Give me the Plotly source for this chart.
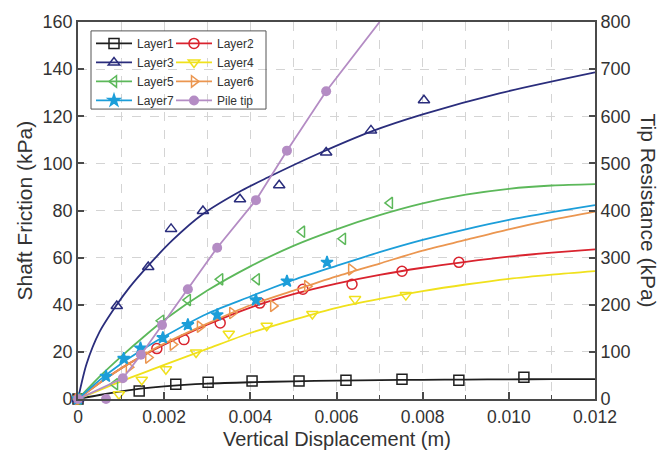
import plotly.graph_objects as go

# ---------------- data ----------------
# measured points: x = vertical displacement (m), y = shaft friction (kPa)
l1_x = [0, 0.00142, 0.00227, 0.00302, 0.00404, 0.00513, 0.00622, 0.00752, 0.00884, 0.01035]
l1_y = [0, 3.4, 6.3, 7.1, 7.6, 7.6, 8.0, 8.4, 8.0, 9.2]

l2_x = [0, 0.00183, 0.00246, 0.0033, 0.00422, 0.00522, 0.00636, 0.00752, 0.00884]
l2_y = [0, 21.4, 25.2, 32.3, 40.7, 46.6, 48.7, 54.2, 58.0]

l3_x = [0, 0.0009, 0.00163, 0.00216, 0.0029, 0.00376, 0.00467, 0.00576, 0.0068, 0.00803]
l3_y = [0, 39.5, 56, 72.2, 79.8, 84.8, 90.7, 104.6, 114, 126.8]

l4_x = [0, 0.00095, 0.00148, 0.00204, 0.00274, 0.0035, 0.00438, 0.00544, 0.00643, 0.00761]
l4_y = [0, 2.0, 8.2, 12.6, 19.7, 27.7, 31.1, 36.1, 42.4, 44.1]

l5_x = [0, 0.00086, 0.00193, 0.00255, 0.0033, 0.00415, 0.0052, 0.00615, 0.00724]
l5_y = [0, 6.3, 33.2, 42, 50.8, 50.8, 71, 68, 83.2]

l6_x = [0, 0.00118, 0.00163, 0.0022, 0.00283, 0.00358, 0.00453, 0.00532, 0.00634]
l6_y = [0, 13.5, 17.6, 23.1, 30.7, 36.5, 39.5, 47.9, 55]

l7_x = [0, 0.00065, 0.00106, 0.00145, 0.00197, 0.00255, 0.00323, 0.00413, 0.00485, 0.00578]
l7_y = [0, 9.6, 17.2, 21.6, 26, 31.5, 35.7, 42, 50, 58]

# pile tip resistance (kPa, right axis)
tip_x = [0, 0.00065, 0.00104, 0.00146, 0.00195, 0.00255, 0.00323, 0.00413, 0.00485, 0.00576]
tip_y = [0, 0, 44, 94, 157, 233, 321, 422, 527, 653]
tip_line_x = [0, 0.00104, 0.00146, 0.00195, 0.00255, 0.00323, 0.00413, 0.00485, 0.00576, 0.0070]
tip_line_y = [0, 44, 94, 157, 233, 321, 422, 527, 653, 800]

# fitted curves
fit_x = [0, 0.0005, 0.001, 0.0015, 0.002, 0.003, 0.004, 0.005, 0.006, 0.007, 0.008, 0.009, 0.010, 0.011, 0.012]
fit1_y = [0, 1.7, 3.2, 4.5, 5.4, 6.5, 7.1, 7.5, 7.8, 8.0, 8.15, 8.25, 8.35, 8.4, 8.45]
fit2_y = [0, 6.8, 13, 18.3, 23, 31.5, 38.8, 44.5, 49, 52.7, 55.7, 58.2, 60.4, 62.1, 63.5]
fit4_y = [0, 3.8, 7.5, 11, 14.5, 21.3, 28, 33.6, 38.7, 42.5, 45.8, 48.6, 51, 52.8, 54.3]
fit5_y = [0, 9.5, 18, 26, 33.5, 46, 56.3, 65, 72, 78, 83, 86.7, 89.2, 90.6, 91.2]
fit6_y = [0, 6.8, 13, 18.5, 23.5, 32, 39.8, 46, 52, 57.5, 63, 67.5, 72, 76, 79.5]
fit7_y = [0, 8, 15, 21, 26.5, 36.2, 43.5, 50.5, 56.5, 62.3, 67.5, 72, 76, 79.3, 82.3]
fit3_x = [0, 0.0002, 0.0005, 0.0009, 0.0012, 0.0016, 0.0022, 0.0029, 0.0038, 0.0044, 0.0056, 0.0068, 0.008, 0.0098, 0.012]
fit3_y = [0, 15, 28.5, 40, 47.5, 56, 67.5, 78.5, 88.5, 94, 104.3, 113.5, 120.8, 129.8, 138.6]

x_tickvals = [0, 0.002, 0.004, 0.006, 0.008, 0.010, 0.012]
x_ticktext = ["0", "0.002", "0.004", "0.006", "0.008", "0.010", "0.012"]
y_tickvals = [0, 20, 40, 60, 80, 100, 120, 140, 160]
y2_tickvals = [0, 100, 200, 300, 400, 500, 600, 700, 800]

# ---------------- styling ----------------
FONT = "Liberation Sans, Arial, sans-serif"
TXT = "#333333"
AX = "#4a4a4a"
GRID = "#d4d4d4"

series = [
    ("Layer1", l1_x, l1_y, fit_x, fit1_y, "#1f1f1f", "square-open", "legend"),
    ("Layer2", l2_x, l2_y, fit_x, fit2_y, "#d9232e", "circle-open", "legend2"),
    ("Layer3", l3_x, l3_y, fit3_x, fit3_y, "#2a2d7c", "triangle-up-open", "legend"),
    ("Layer4", l4_x, l4_y, fit_x, fit4_y, "#f0e11c", "triangle-down-open", "legend2"),
    ("Layer5", l5_x, l5_y, fit_x, fit5_y, "#5cb85a", "triangle-left-open", "legend"),
    ("Layer6", l6_x, l6_y, fit_x, fit6_y, "#eb9650", "triangle-right-open", "legend2"),
    ("Layer7", l7_x, l7_y, fit_x, fit7_y, "#1c9ed9", "star", "legend"),
]
TIP_COLOR = "#b48cc4"

fig = go.Figure()

for name, px, py, fx, fy, col, sym, leg in series:
    fig.add_trace(go.Scatter(x=fx, y=fy, mode="lines", line=dict(color=col, width=1.8, shape="spline", smoothing=0.8),
                             showlegend=False, hoverinfo="skip"))
    fig.add_trace(go.Scatter(x=px, y=py, mode="markers",
                             marker=dict(symbol=sym, size=10 if sym != "star" else 9, color=col,
                                         line=dict(color=col, width=1.5)),
                             showlegend=False, name=name, cliponaxis=False))

# pile tip on right axis
fig.add_trace(go.Scatter(x=tip_line_x, y=tip_line_y, mode="lines", yaxis="y2",
                         line=dict(color=TIP_COLOR, width=1.8), showlegend=False, hoverinfo="skip"))
fig.add_trace(go.Scatter(x=tip_x, y=tip_y, mode="markers", yaxis="y2",
                         marker=dict(symbol="circle", size=10, color=TIP_COLOR),
                         showlegend=False, name="Pile tip", cliponaxis=False))

# legend-only entries (line + marker)
for name, px, py, fx, fy, col, sym, leg in series:
    fig.add_trace(go.Scatter(x=[None], y=[None], mode="lines+markers", name=name, legend=leg,
                             line=dict(color=col, width=1.8),
                             marker=dict(symbol=sym, size=10 if sym != "star" else 9, color=col,
                                         line=dict(color=col, width=1.5))))
fig.add_trace(go.Scatter(x=[None], y=[None], mode="lines+markers", name="Pile tip", legend="legend2",
                         line=dict(color=TIP_COLOR, width=1.8),
                         marker=dict(symbol="circle", size=10, color=TIP_COLOR)))

# plot area: left 78px, right 595px, top 18px, bottom 399px
W, H = 660, 451
L, R, T, B = 78, 65, 18, 52
pw, ph = W - L - R, H - T - B

def px2x(p):
    return (p - L) / pw

def px2y(p):
    return (H - B - p) / ph

legend_common = dict(font=dict(family=FONT, size=12, color=TXT), bgcolor="rgba(0,0,0,0)",
                     borderwidth=0, xanchor="left", yanchor="top", tracegroupgap=0,
                     itemwidth=36, orientation="v")

fig.update_layout(
    width=W, height=H,
    margin=dict(l=L, r=R, t=T, b=B),
    paper_bgcolor="white", plot_bgcolor="white",
    font=dict(family=FONT, color=TXT, size=18),
    legend=dict(x=px2x(91), y=px2y(25), **legend_common),
    legend2=dict(x=px2x(171), y=px2y(25), **legend_common),
    xaxis=dict(range=[0, 0.012], tickvals=x_tickvals, ticktext=x_ticktext,
               ticks="inside", ticklen=7, tickwidth=1.5, tickcolor=AX, ticklabelstandoff=1,
               showline=True, linecolor=AX, linewidth=1.6, mirror=True,
               showgrid=True, gridcolor=GRID, griddash="dash", gridwidth=1,
               minor=dict(dtick=0.001, showgrid=True, gridcolor=GRID, griddash="dash",
                          ticks="inside", ticklen=4, tickcolor=AX, tickwidth=1.2),
               zeroline=False, tickfont=dict(size=17.5, color=TXT), fixedrange=True),
    yaxis=dict(range=[0, 160], tickvals=y_tickvals, ticks="inside", ticklen=6, tickwidth=1.5,
               tickcolor=AX, showline=True, linecolor=AX, linewidth=1.6,
               showgrid=True, gridcolor=GRID, griddash="dash", gridwidth=1,
               zeroline=False, tickfont=dict(size=18, color=TXT)),
    yaxis2=dict(range=[0, 800], tickvals=y2_tickvals, overlaying="y", side="right",
                ticks="inside", ticklen=6, tickwidth=1.5, tickcolor=AX,
                showline=True, linecolor=AX, linewidth=1.6, showgrid=False, zeroline=False,
                tickfont=dict(size=18, color=TXT)),
    shapes=[dict(type="rect", xref="paper", yref="paper",
                 x0=px2x(91), x1=px2x(266), y0=px2y(106), y1=px2y(27),
                 line=dict(color="#555555", width=1), fillcolor="rgba(255,255,255,0)", layer="above")],
    annotations=[
        dict(text="Shaft Friction (kPa)", xref="paper", yref="paper", x=px2x(24), y=0.5,
             xanchor="center", yanchor="middle", textangle=-90, showarrow=False,
             font=dict(size=21, color=TXT, family=FONT)),
        dict(text="Tip Resistance (kPa)", xref="paper", yref="paper", x=px2x(648), y=0.5,
             xanchor="center", yanchor="middle", textangle=90, showarrow=False,
             font=dict(size=21, color=TXT, family=FONT)),
        dict(text="Vertical Displacement (m)", xref="paper", yref="paper", x=0.5, y=px2y(439),
             xanchor="center", yanchor="middle", showarrow=False,
             font=dict(size=20, color=TXT, family=FONT)),
    ],
)

fig.write_html("out.html")
